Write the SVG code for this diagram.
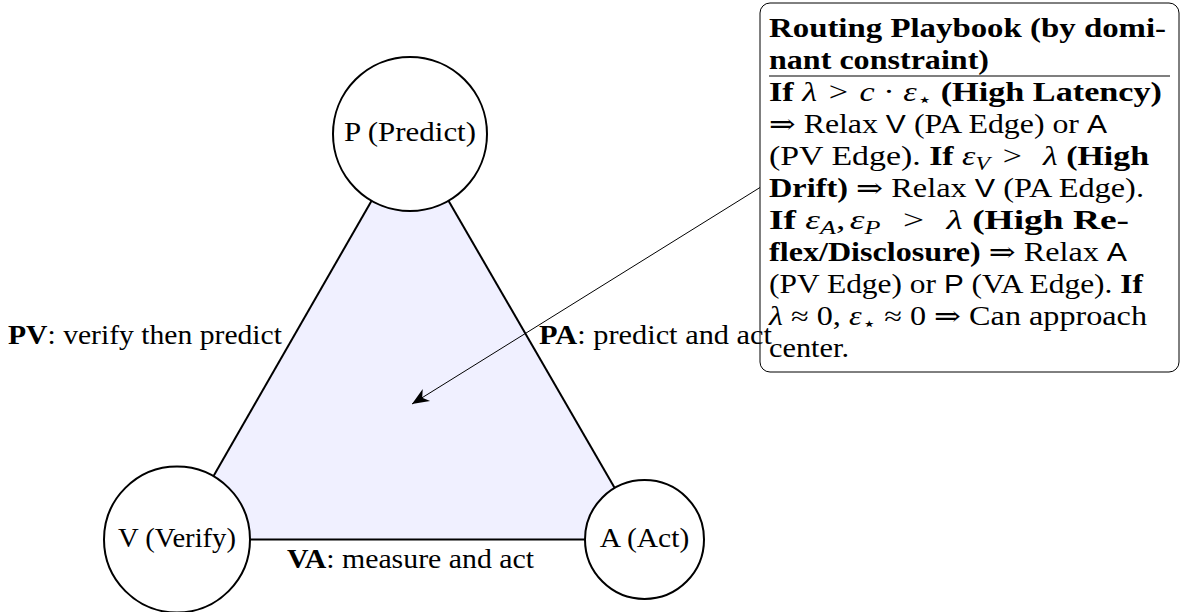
<svg xmlns="http://www.w3.org/2000/svg" width="1182" height="612" viewBox="0 0 1182 612">
<style>
.t{font-family:"Liberation Serif","DejaVu Serif",serif;font-size:26.5px;fill:#000}
.b{font-weight:bold}
.i{font-style:italic}
.sf{font-family:"Liberation Sans","DejaVu Sans",sans-serif;font-size:25px}
.sub{font-size:18.5px}
.edge{stroke:#000;stroke-width:2;fill:none}
.node{stroke:#000;stroke-width:2;fill:#fff}
.note{stroke:#000;stroke-width:1;fill:none}
</style>
<defs>
<marker id="stealth" markerUnits="userSpaceOnUse" markerWidth="24" markerHeight="20" viewBox="-20 -10 24 20" refX="0" refY="0" orient="auto">
<path d="M0,0 L-17,-7 L-12,0 L-17,7 Z" fill="#000"/>
</marker>
</defs>
<polygon id="region" points="410,134 177,539.5 644.5,539.5" fill="#f0f0ff" stroke="none"/>
<g id="note">
<rect class="note" x="760" y="3" width="419" height="369" rx="10" ry="10"/>
<text class="t b" x="769" y="37" textLength="397" lengthAdjust="spacingAndGlyphs">Routing Playbook (by domi-</text>
<text class="t b" x="769" y="69" textLength="220" lengthAdjust="spacingAndGlyphs">nant constraint)</text>
<line x1="769" y1="76" x2="1170" y2="76" stroke="#000" stroke-width="1.2"/>
<text class="t" x="769" y="101" textLength="393" lengthAdjust="spacingAndGlyphs"><tspan class="b">If</tspan> <tspan class="i">λ</tspan><tspan dx="9">&gt;</tspan><tspan class="i" dx="9">c</tspan> · <tspan class="i">ε</tspan><tspan class="sub" dy="5">⋆</tspan><tspan dy="-5"> </tspan><tspan class="b">(High Latency)</tspan></text>
<text class="t" x="769" y="133" textLength="338" lengthAdjust="spacingAndGlyphs">⇒ Relax <tspan class="sf">V</tspan> (PA Edge) or <tspan class="sf">A</tspan></text>
<text class="t" x="769" y="165" textLength="380" lengthAdjust="spacingAndGlyphs">(PV Edge). <tspan class="b">If</tspan> <tspan class="i">ε</tspan><tspan class="sub i" dy="5">V</tspan><tspan dy="-5" dx="10">&gt;</tspan><tspan dx="10"> </tspan><tspan class="i">λ</tspan> <tspan class="b">(High</tspan></text>
<text class="t" x="769" y="197" textLength="375" lengthAdjust="spacingAndGlyphs"><tspan class="b">Drift)</tspan> ⇒ Relax <tspan class="sf">V</tspan> (PA Edge).</text>
<text class="t" x="769" y="229" textLength="360" lengthAdjust="spacingAndGlyphs"><tspan class="b">If</tspan> <tspan class="i">ε</tspan><tspan class="sub i" dy="5">A</tspan><tspan dy="-5">,</tspan><tspan class="i" dx="3">ε</tspan><tspan class="sub i" dy="5">P</tspan><tspan dy="-5" dx="16">&gt;</tspan><tspan class="i" dx="16">λ</tspan> <tspan class="b">(High Re-</tspan></text>
<text class="t" x="769" y="261" textLength="358" lengthAdjust="spacingAndGlyphs"><tspan class="b">flex/Disclosure)</tspan> ⇒ Relax <tspan class="sf">A</tspan></text>
<text class="t" x="769" y="293" textLength="374" lengthAdjust="spacingAndGlyphs">(PV Edge) or <tspan class="sf">P</tspan> (VA Edge). <tspan class="b">If</tspan></text>
<text class="t" x="769" y="325" textLength="378" lengthAdjust="spacingAndGlyphs"><tspan class="i">λ</tspan> ≈ 0, <tspan class="i">ε</tspan><tspan class="sub" dy="5">⋆</tspan><tspan dy="-5"> </tspan>≈ 0 ⇒ Can approach</text>
<text class="t" x="769" y="357" textLength="80" lengthAdjust="spacingAndGlyphs">center.</text>
</g>
<g id="connectors">
<line class="edge" x1="371.6" y1="200.7" x2="213.4" y2="476.2"/>
<line class="edge" x1="448.5" y1="200.7" x2="614.7" y2="488"/>
<line class="edge" x1="250" y1="539.5" x2="585" y2="539.5"/>
<line x1="760" y1="187.5" x2="412" y2="404" stroke="#000" stroke-width="1" marker-end="url(#stealth)"/>
<text class="t" x="8" y="344" textLength="274" lengthAdjust="spacingAndGlyphs"><tspan class="b">PV</tspan>: verify then predict</text>
<text class="t" x="539" y="344" textLength="233" lengthAdjust="spacingAndGlyphs"><tspan class="b">PA</tspan>: predict and act</text>
<text class="t" x="287" y="568" textLength="247" lengthAdjust="spacingAndGlyphs"><tspan class="b">VA</tspan>: measure and act</text>
</g>
<g id="node-P">
<circle class="node" cx="410" cy="134" r="77"/>
<text class="t" x="344" y="141" textLength="132" lengthAdjust="spacingAndGlyphs">P (Predict)</text>
</g>
<g id="node-V">
<circle class="node" cx="177" cy="539.5" r="73"/>
<text class="t" x="118" y="546.5" textLength="118" lengthAdjust="spacingAndGlyphs">V (Verify)</text>
</g>
<g id="node-A">
<circle class="node" cx="644.5" cy="539.5" r="59.5"/>
<text class="t" x="599.8" y="546.5" textLength="89.5" lengthAdjust="spacingAndGlyphs">A (Act)</text>
</g>
</svg>
